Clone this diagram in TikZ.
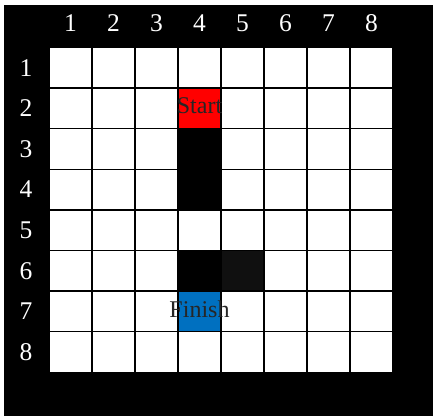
\documentclass[tikz,border=0pt]{standalone}
\usepackage{fontspec}
\setmainfont{Liberation Serif}
\definecolor{finishblue}{RGB}{0,112,192}
\definecolor{darkcell}{RGB}{16,16,16}
\begin{document}
\begin{tikzpicture}[x=1pt,y=-1pt,
  cell/.style={draw=black,line width=1.5pt,fill=white,minimum width=43pt,minimum height=40.6pt,inner sep=0pt,anchor=center},
  lbl/.style={text=white,font=\fontsize{25.5}{30}\selectfont,inner sep=0pt},
  celltext/.style={text=black!85,font=\fontsize{24}{28}\selectfont,inner sep=0pt}]
\useasboundingbox (0,0) rectangle (433,416);
\fill[white] (0,0) rectangle (433,416);
\fill[black] (4,5) rectangle (433,416);
% grid cells
\foreach \r in {1,...,8}{
  \foreach \c in {1,...,8}{
    \node[cell] (c-\r-\c) at ({49+43*(\c-0.5)},{47.5+40.6*(\r-0.5)}) {};
  }
}
% coloured cells
\node[cell,fill=red] (start) at (c-2-4) {};
\node[cell,fill=black] (w1) at (c-3-4) {};
\node[cell,fill=black] (w2) at (c-4-4) {};
\node[cell,fill=black] (w3) at (c-6-4) {};
\node[cell,fill=darkcell] (w4) at (c-6-5) {};
\node[cell,fill=finishblue] (finish) at (c-7-4) {};
\node[celltext] (tstart) at ([yshift=3pt]c-2-4) {Start};
\node[celltext] (tfinish) at ([yshift=2pt]c-7-4) {Finish};
% labels
\foreach \c in {1,...,8}{
  \node[lbl] (col-\c) at ({49+43*(\c-0.5)},23) {\c};
}
\foreach \r in {1,...,8}{
  \node[lbl] (row-\r) at (26,{47.5+40.6*(\r-0.5)}) {\r};
}
\end{tikzpicture}
\end{document}
